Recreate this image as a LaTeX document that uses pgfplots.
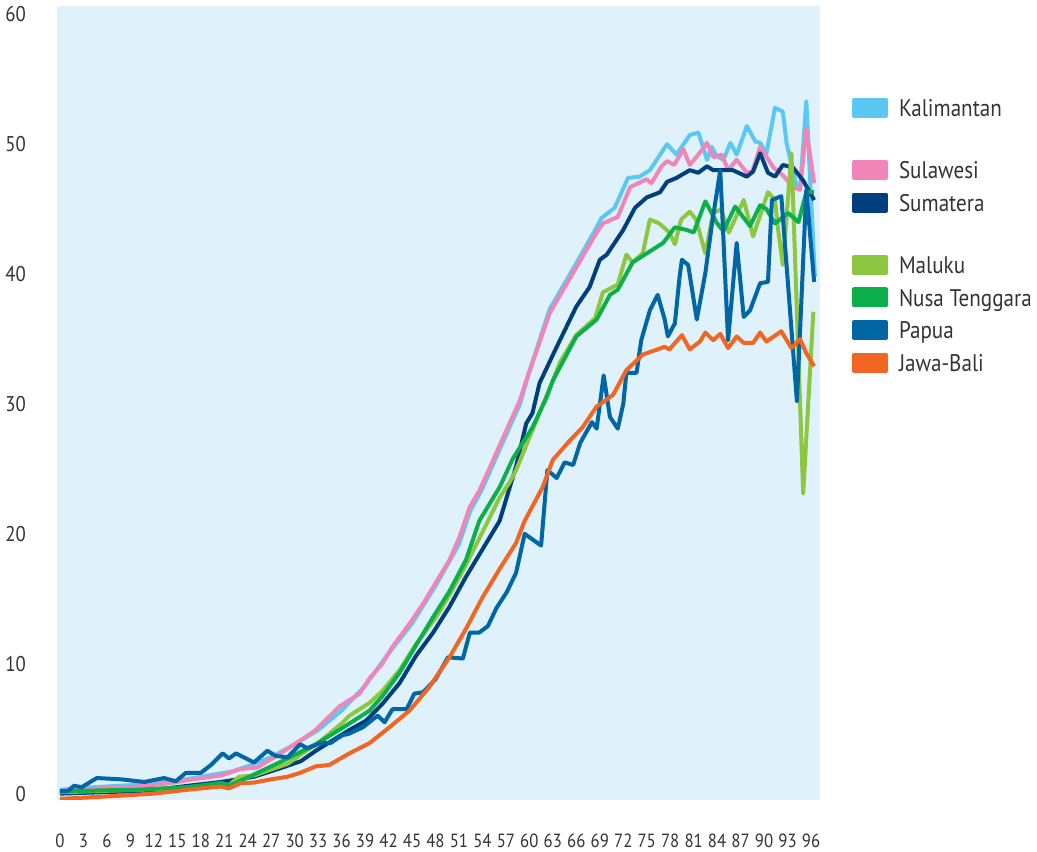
\documentclass[border=0pt]{standalone}
\usepackage{pgfplots}
\pgfplotsset{compat=1.18}
\usepackage{fontspec}
\setmainfont{PT Sans}[FakeStretch=0.88]
\definecolor{bg}{HTML}{DFF1FB}
\definecolor{txt}{HTML}{333333}
\definecolor{kal}{HTML}{5BC8F4}
\definecolor{sul}{HTML}{F185B8}
\definecolor{sum}{HTML}{003F7D}
\definecolor{mal}{HTML}{8DC63F}
\definecolor{nus}{HTML}{0CB04A}
\definecolor{pap}{HTML}{0066A4}
\definecolor{jaw}{HTML}{F26522}
\begin{document}
\begin{tikzpicture}
\begin{axis}[
 scale only axis, width=572.25pt, height=595.5pt,
 xmin=-0.38, xmax=97.15, ymin=-0.49, ymax=60.64,
 xtick={0,3,...,96}, ytick={0,10,...,60},
 axis line style={draw=none}, major tick length=0pt,
 axis background/.style={fill=bg},
 tick label style={text=txt, inner sep=0pt, /pgf/number format/assume math mode=true},
 xticklabel style={font=\fontsize{14.3}{16}\selectfont, anchor=north, yshift=-25.5pt},
 yticklabel style={font=\fontsize{16}{18}\selectfont, anchor=east, xshift=-23.25pt},
 legend style={at={(1,1)}, anchor=north west, xshift=24pt, yshift=-68.7pt,
   draw=none, fill=none, inner sep=0pt, outer sep=0pt,
   font=\fontsize{18}{20}\selectfont, text=txt, row sep=9.4pt, column sep=8.25pt,
   nodes={inner sep=0pt, text height=13pt, text depth=0pt}},
 legend cell align=left,
 legend image code/.code={\fill[#1] (0pt,-6pt) rectangle (24pt,6pt);},
 every axis plot/.append style={line width=3pt, line join=round, no markers},
]
\coordinate (SW) at (rel axis cs:0,0);
\coordinate (NE) at (rel axis cs:1,1);
% Kalimantan
\addplot[kal] coordinates {
(0,0.3)(3,0.45)(6,0.55)(9,0.65)(12,0.8)(15,1.0)(18,1.3)(20,1.5)(22,1.7)(24,2.1)
(27,2.8)(30,3.8)(33,4.9)(36,6.4)(39,8.3)(42,10.8)(45,13.1)(48,16.0)(51,19.2)(52.4,21.7)
(54,23.5)(56.2,26.5)(58.8,30.0)(60,32.5)(62.6,37.3)(65.6,40.4)(68.6,43.6)(69.2,44.3)(70.9,45.1)(72.6,47.4)
(74.1,47.5)(75.4,48.0)(77.6,50.0)(78.8,49.2)(80.5,50.7)(81.6,50.9)(82.7,48.8)(83.3,49.8)(83.9,49.1)(84.8,48.8)
(85.7,50.1)(86.5,49.2)(87.8,51.4)(88.9,50.2)(89.5,50.1)(90.3,49.3)(91.4,52.8)(92.4,52.5)(92.9,50.0)(94.2,46.7)
(94.6,46.5)(95.4,53.3)(96.5,39.8)};
\addlegendentry{Kalimantan}
\addlegendimage{empty legend}\addlegendentry{}
% Sulawesi
\addplot[sul] coordinates {
(0,0.2)(3,0.35)(5,0.4)(10,0.55)(14,0.8)(17,1.1)(20.6,1.4)(23.1,1.9)(25.2,2.0)(27.4,2.8)
(31,4.2)(32.7,4.9)(35.7,6.7)(38.3,7.7)(39.6,8.9)(41.2,10.0)(42.5,11.3)(44.7,13.1)(46.4,14.6)(49.8,18.0)
(51.1,19.8)(52.4,22.1)(53.6,23.3)(56.2,26.8)(58.8,30.3)(59.6,31.8)(62.6,37.0)(65.6,40.1)(68.6,43.2)(69.4,43.9)
(71.3,44.4)(72.9,46.7)(75.0,47.3)(75.6,47.0)(76.9,48.3)(77.6,48.7)(78.5,48.4)(79.7,49.6)(80.5,48.4)(81.6,49.2)
(82.7,50.1)(83.5,49.0)(84.6,49.2)(85.4,48.0)(86.5,48.8)(87.8,47.8)(88.5,47.9)(89.5,49.8)(91.2,48.2)(92.4,47.6)
(93.7,46.7)(94.6,46.5)(95.4,51.2)(96.4,47.0)};
\addlegendentry{Sulawesi}
% Sumatera
\addplot[sum] coordinates {
(0,0.0)(5,0.1)(10,0.2)(13,0.35)(16.3,0.6)(20.6,0.9)(24.8,1.3)(28.4,2.0)(30.8,2.5)(32.7,3.3)
(37,4.9)(39.1,5.6)(41.2,6.9)(43.4,8.5)(45.5,10.6)(47.7,12.4)(49.8,14.4)(51.9,16.7)(56.2,21.0)(58.3,25.2)
(59.6,28.5)(60.4,29.3)(61.3,31.6)(63.5,34.4)(66,37.5)(67.7,39.0)(69,41.1)(69.9,41.5)(72,43.4)(73.5,45.1)
(75,45.9)(76.7,46.3)(77.6,47.1)(78.8,47.4)(80.5,48.0)(81.6,47.8)(82.7,48.3)(83.5,48.0)(86,48.0)(87.8,47.5)
(88.6,47.9)(89.5,49.3)(90.5,47.8)(91.4,47.5)(92.4,48.4)(93.7,48.2)(95,47.2)(96.4,45.7)};
\addlegendentry{Sumatera}
\addlegendimage{empty legend}\addlegendentry{}
% Maluku
\addplot[mal] coordinates {
(0,0.1)(5,0.2)(10,0.3)(16,0.45)(20.6,0.8)(21.6,0.65)(22.9,1.3)(24.8,1.4)(29.1,2.3)(31,3.1)
(33,3.9)(36,5.4)(37,6.0)(39.6,7.0)(41.2,7.9)(43.4,9.5)(45.5,11.5)(48.1,13.6)(49.8,15.3)(51.9,17.6)
(56.2,22.8)(57.5,24.0)(58.3,24.9)(60.4,28.0)(63,31.8)(63.9,33.2)(66,35.3)(68.4,36.6)(69.4,38.6)(71.3,39.2)
(72.4,41.5)(73.2,40.9)(74.5,41.6)(75.4,44.2)(76.6,43.9)(77.9,43.2)(78.6,42.3)(79.4,44.2)(80.5,44.8)(81.3,44.2)
(82.5,41.6)(83.5,44.7)(84.5,45.0)(85.5,43.2)(87.4,45.7)(88.6,42.9)(90.5,46.3)(91.4,45.7)(91.8,43.4)(92.4,40.7)
(93.5,49.3)(95.0,23.1)(96.3,37.1)};
\addlegendentry{Maluku}
% Nusa Tenggara
\addplot[nus] coordinates {
(0,0.15)(5,0.25)(10,0.3)(16.3,0.5)(20.6,0.8)(21.6,0.6)(24.2,1.3)(28.4,2.5)(32.7,3.8)(37,5.4)
(39.6,6.4)(41.2,7.5)(43.4,9.3)(45.5,11.4)(47.7,13.6)(49.8,15.6)(51.9,18.0)(53.6,21.0)(56.2,23.6)(57.9,25.8)
(60.4,28.2)(62.2,30.5)(63,31.8)(66,35.2)(68.6,36.5)(70.3,38.4)(71.3,38.8)(73.2,40.9)(77.1,42.4)(78.6,43.6)
(80.1,43.4)(81,43.2)(82.5,45.6)(84,43.9)(84.8,43.3)(86.3,45.2)(88.2,43.7)(89.5,45.3)(90.3,45.0)(91.4,43.9)
(93.1,44.7)(94.4,44.0)(95.4,46.3)(96.4,46.3)};
\addlegendentry{Nusa Tenggara}
% Papua
\addplot[pap] coordinates {
(0,0.2)(1,0.2)(1.8,0.6)(2.8,0.5)(4.7,1.2)(7.8,1.1)(10.8,0.9)(13.3,1.2)(14.8,0.95)(16.1,1.6)
(18,1.6)(19.3,2.2)(20.8,3.1)(21.6,2.7)(22.5,3.1)(24.8,2.4)(26.5,3.3)(27.6,2.9)(29.1,2.8)(30.7,3.8)
(31.6,3.5)(33.4,3.9)(34.6,3.9)(36.1,4.5)(36.9,4.6)(38.7,5.1)(40.6,6.0)(41.5,5.5)(42.5,6.5)(44.3,6.5)
(45.3,7.7)(46.4,7.8)(48,8.8)(49.6,10.5)(51.5,10.4)(52.4,12.4)(53.6,12.4)(54.7,12.9)(55.8,14.3)(57.1,15.5)
(58.3,17.0)(59.4,20.0)(61.5,19.1)(62.3,24.9)(63.5,24.3)(64.5,25.5)(65.6,25.3)(66.5,27.0)(68.0,28.6)(68.6,28.1)
(69.5,32.2)(70.3,29.0)(71.3,28.1)(72.0,30.0)(72.4,32.4)(73.7,32.4)(74.3,34.9)(75.4,37.2)(76.4,38.4)(77.3,36.5)
(77.7,35.2)(78.6,36.2)(79.2,39.8)(79.5,41.1)(80.3,40.7)(81.4,36.5)(82.5,40.1)(83.3,43.7)(84.4,48.0)(85.4,34.9)
(86.5,42.4)(87.4,36.7)(88.2,37.2)(89.5,39.3)(90.5,39.4)(91.0,45.7)(92.2,46.0)(94.2,30.2)(95.4,46.5)(96.4,39.4)};
\addlegendentry{Papua}
% Jawa-Bali
\addplot[jaw] coordinates {
(0,-0.4)(3.5,-0.3)(8,-0.15)(12,0.0)(16.3,0.3)(20.6,0.55)(21.6,0.4)(23.1,0.8)(24.8,0.85)(27.0,1.1)
(29.1,1.3)(30.7,1.6)(32.7,2.1)(34.4,2.2)(37.0,3.1)(39.6,3.9)(42.1,5.1)(44.7,6.4)(47.2,8.2)(49.8,10.5)
(52,12.8)(54,15.1)(56.2,17.3)(58.3,19.3)(59.4,21.0)(61.7,23.6)(63.0,25.7)(65.2,27.2)(66.8,28.2)(68.6,29.8)
(70.7,30.7)(72.4,32.6)(74.5,33.8)(77.3,34.4)(77.9,34.2)(79.5,35.3)(80.5,34.2)(81.8,34.8)(82.5,35.5)(83.5,34.9)
(84.4,35.4)(85.4,34.3)(86.5,35.2)(87.4,34.7)(88.6,34.7)(89.5,35.5)(90.3,34.8)(92.2,35.6)(93.5,34.3)(94.6,35.0)
(95.4,33.9)(96.4,32.9)};
\addlegendentry{Jawa-Bali}
\end{axis}
\pgfresetboundingbox
\path ([xshift=-42.75pt,yshift=-39pt]SW) rectangle ([xshift=162.75pt,yshift=4.5pt]NE);
\end{tikzpicture}
\end{document}
